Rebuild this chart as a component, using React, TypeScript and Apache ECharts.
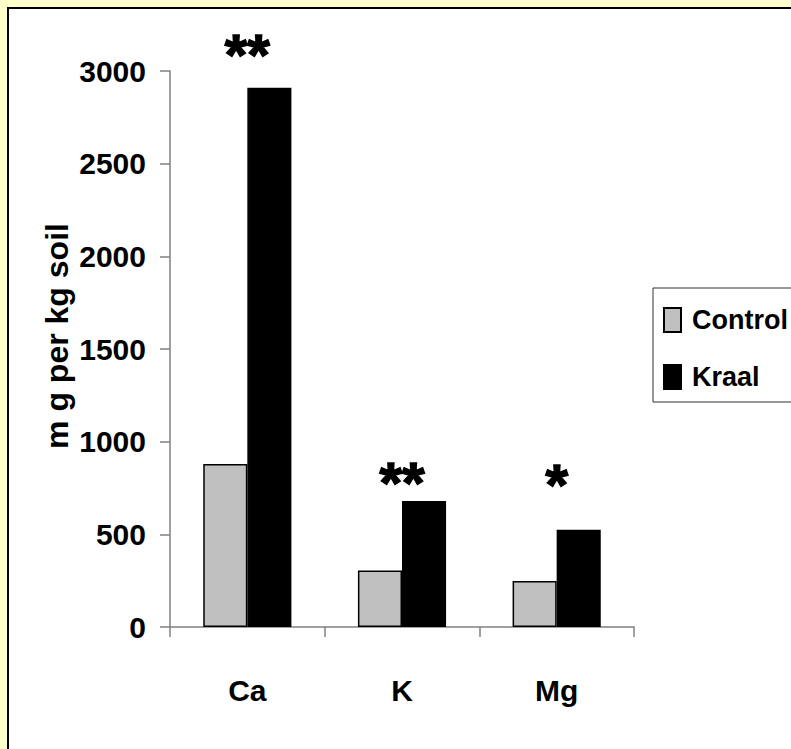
import React, { useEffect, useRef } from "react";
import * as echarts from "echarts";

const categories = ["Ca", "K", "Mg"];
const controlValues = [880, 305, 248];
const kraalValues = [2910, 680, 525];
const significance = ["**", "**", "*"];
const significanceY = [3088, 778, 770];
const yTicks = { min: 0, max: 3000, interval: 500 };

const SANS = "'Liberation Sans', Arial, sans-serif";

export default function App() {
  const ref = useRef<HTMLDivElement>(null);
  useEffect(() => {
    document.body.style.margin = "0";
    document.body.style.background = "#FFFFCC";
    const chart = echarts.init(ref.current!, null, { renderer: "svg" });
    chart.setOption({
      animation: false,
      backgroundColor: "#FFFFCC",
      graphic: [
        {
          type: "rect",
          z: -10,
          shape: { x: 8, y: 8, width: 820, height: 800 },
          style: { fill: "#FFFFFF", stroke: "#000000", lineWidth: 2 },
        },
      ],
      grid: { left: 170, right: 157, top: 71, bottom: 122 },
      legend: {
        orient: "vertical",
        left: 653,
        top: 288,
        padding: [15, 30, 8, 10],
        itemGap: 23,
        itemWidth: 17,
        itemHeight: 24,
        backgroundColor: "#FFFFFF",
        borderColor: "#333333",
        borderWidth: 1,
        textStyle: {
          fontFamily: SANS,
          fontWeight: "bold",
          fontSize: 27,
          lineHeight: 34,
          color: "#000",
          padding: [0, 0, 0, 6],
        },
        data: [
          { name: "Control", icon: "rect" },
          { name: "Kraal", icon: "rect" },
        ],
      },
      xAxis: {
        type: "category",
        data: categories,
        axisLine: { lineStyle: { color: "#808080", width: 1.5 } },
        axisTick: { show: true, length: 10, alignWithLabel: false, lineStyle: { color: "#808080", width: 1.5 } },
        axisLabel: {
          margin: 48,
          fontFamily: SANS,
          fontWeight: "bold",
          fontSize: 30,
          color: "#000",
        },
      },
      yAxis: {
        type: "value",
        min: yTicks.min,
        max: yTicks.max,
        interval: yTicks.interval,
        name: "m g per kg soil",
        nameLocation: "middle",
        nameRotate: 90,
        nameGap: 97,
        nameMoveOverlap: false,
        nameTextStyle: {
          fontFamily: SANS,
          fontWeight: "bold",
          fontSize: 32,
          color: "#000",
          padding: [0, 0, 0, 26],
        },
        splitLine: { show: false },
        axisLine: { show: true, lineStyle: { color: "#808080", width: 1.5 } },
        axisTick: { show: true, length: 10, lineStyle: { color: "#808080", width: 1.5 } },
        axisLabel: {
          margin: 24,
          fontFamily: SANS,
          fontWeight: "bold",
          fontSize: 30,
          color: "#000",
          formatter: (v: number) => String(v),
        },
      },
      series: [
        {
          name: "Control",
          type: "bar",
          data: controlValues,
          barGap: "0%",
          barCategoryGap: "43%",
          itemStyle: { color: "#C0C0C0", borderColor: "#000", borderWidth: 1.5 },
        },
        {
          name: "Kraal",
          type: "bar",
          data: kraalValues,
          itemStyle: { color: "#000000", borderColor: "#000", borderWidth: 1.5 },
        },
        {
          name: "sig",
          type: "scatter",
          clip: false,
          symbolSize: 1,
          itemStyle: { color: "rgba(0,0,0,0)", opacity: 1 },
          silent: true,
          data: categories.map((c, i) => ({ value: [c, significanceY[i]], name: significance[i] })),
          label: {
            show: true,
            position: "inside",
            formatter: (p: any) => p.name,
            fontFamily: SANS,
            fontWeight: "bold",
            fontSize: 58,
            color: "#000000",
            textBorderColor: "#000000",
            textBorderWidth: 1.5,
          },
        },
      ],
    });
    return () => chart.dispose();
  }, []);
  return <div ref={ref} style={{ width: 791, height: 749 }} />;
}
